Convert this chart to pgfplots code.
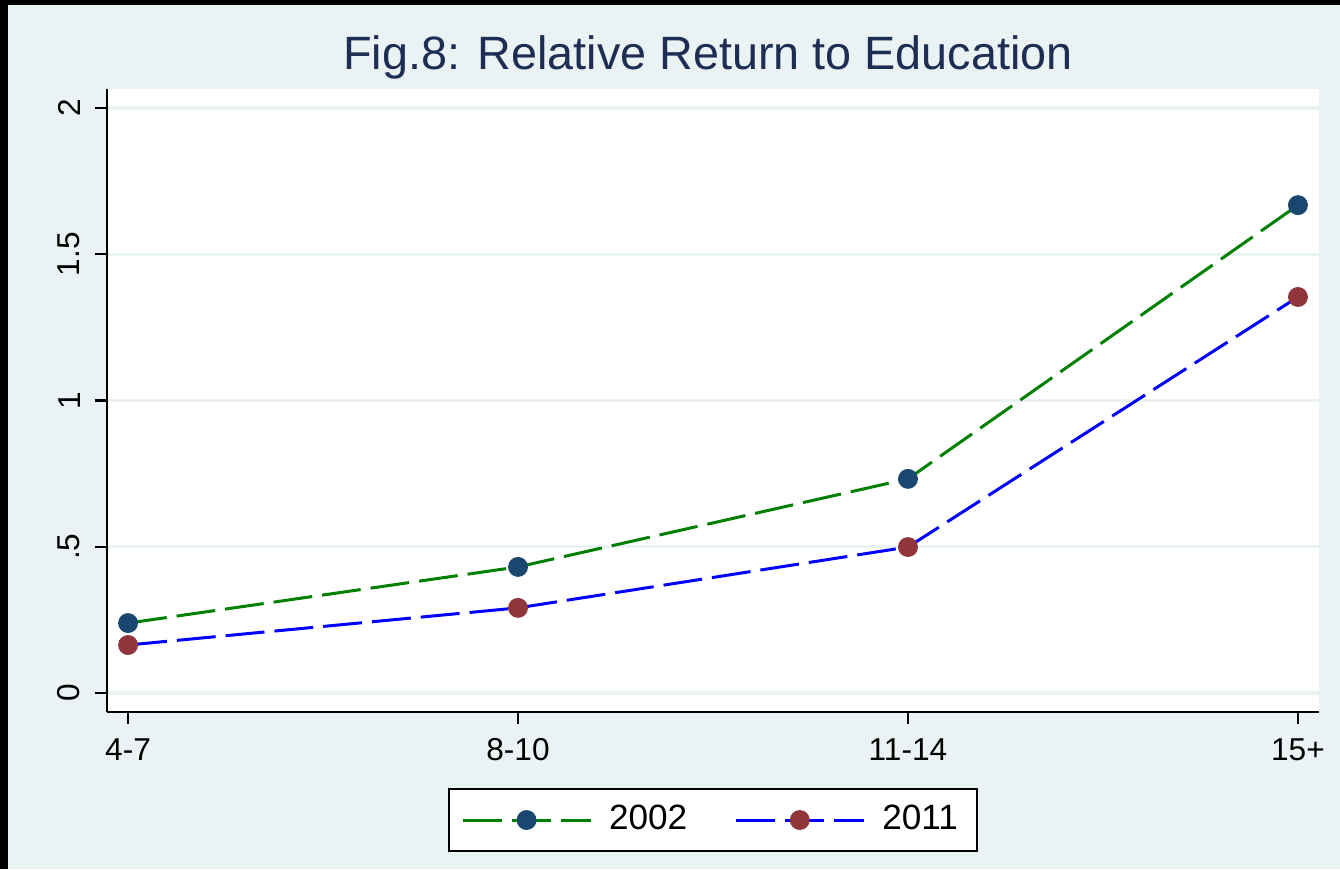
\documentclass[border=0pt]{standalone}
\usepackage{fontspec}
\setmainfont{Liberation Sans}
\usepackage{pgfplots}
\pgfplotsset{compat=1.18}
\definecolor{stbg}{RGB}{234,242,243}
\definecolor{stnavy}{RGB}{26,71,111}
\definecolor{stmaroon}{RGB}{144,53,59}
\definecolor{sttitle}{RGB}{30,45,83}
\definecolor{stgreen}{RGB}{0,128,0}
\definecolor{stblue}{RGB}{0,0,255}
\begin{document}
\begin{tikzpicture}
\useasboundingbox (0,0) rectangle (13.4,8.69);
\fill[black] (0,0) rectangle (13.4,8.69);
\fill[stbg] (0.08,0) rectangle (13.4,8.64);
\node[font=\fontsize{13.3}{15}\selectfont, text=sttitle] at (7.08,8.12) {Fig.8: Relative Return to Education};
\begin{axis}[
  at={(1.07cm,1.57cm)}, anchor=south west,
  scale only axis, width=12.12cm, height=6.23cm,
  xmin=-0.054, xmax=3.054, ymin=-0.065, ymax=2.065,
  axis background/.style={fill=white},
  axis lines*=left, axis line style={-, black, line width=0.7pt},
  xtick={0,1,2,3}, xticklabels={4-7,8-10,11-14,15+},
  ytick={0,0.5,1,1.5,2}, yticklabels={0,.5,1,1.5,2},
  tick align=outside, major tick length=0.12cm,
  tick style={black, line width=0.6pt},
  ticklabel style={font=\fontsize{9}{10}\selectfont},
  yticklabel style={rotate=90, anchor=south, inner sep=4pt},
  xticklabel style={inner sep=4pt},
  /pgf/number format/assume math mode=true,
  ymajorgrids, grid style={stbg, line width=0.9pt},
  legend columns=2,
  legend style={at={(0.5,-0.1734)}, anchor=center, draw=black, line width=0.6pt,
    fill=white, font=\fontsize{10}{11}\selectfont, inner xsep=3.5pt, inner ysep=2.5pt,
    /tikz/every odd column/.append style={column sep=0.1cm},
    /tikz/every even column/.append style={column sep=0.4cm}},
  legend image code/.code={\draw[mark repeat=2, mark phase=2, #1] plot coordinates {(0cm,0cm) (0.64cm,0cm) (1.28cm,0cm)};},
]
\addplot[stgreen, line width=0.85pt, dash pattern=on 0.39cm off 0.10cm, mark=*, mark size=2.4pt,
  mark options={solid, draw=stnavy, fill=stnavy}]
  coordinates {(0,0.239) (1,0.431) (2,0.732) (3,1.668)};
\addlegendentry{2002}
\addplot[stblue, line width=0.85pt, dash pattern=on 0.39cm off 0.10cm, mark=*, mark size=2.4pt,
  mark options={solid, draw=stmaroon, fill=stmaroon}]
  coordinates {(0,0.164) (1,0.291) (2,0.499) (3,1.354)};
\addlegendentry{2011}
\end{axis}
\end{tikzpicture}
\end{document}
